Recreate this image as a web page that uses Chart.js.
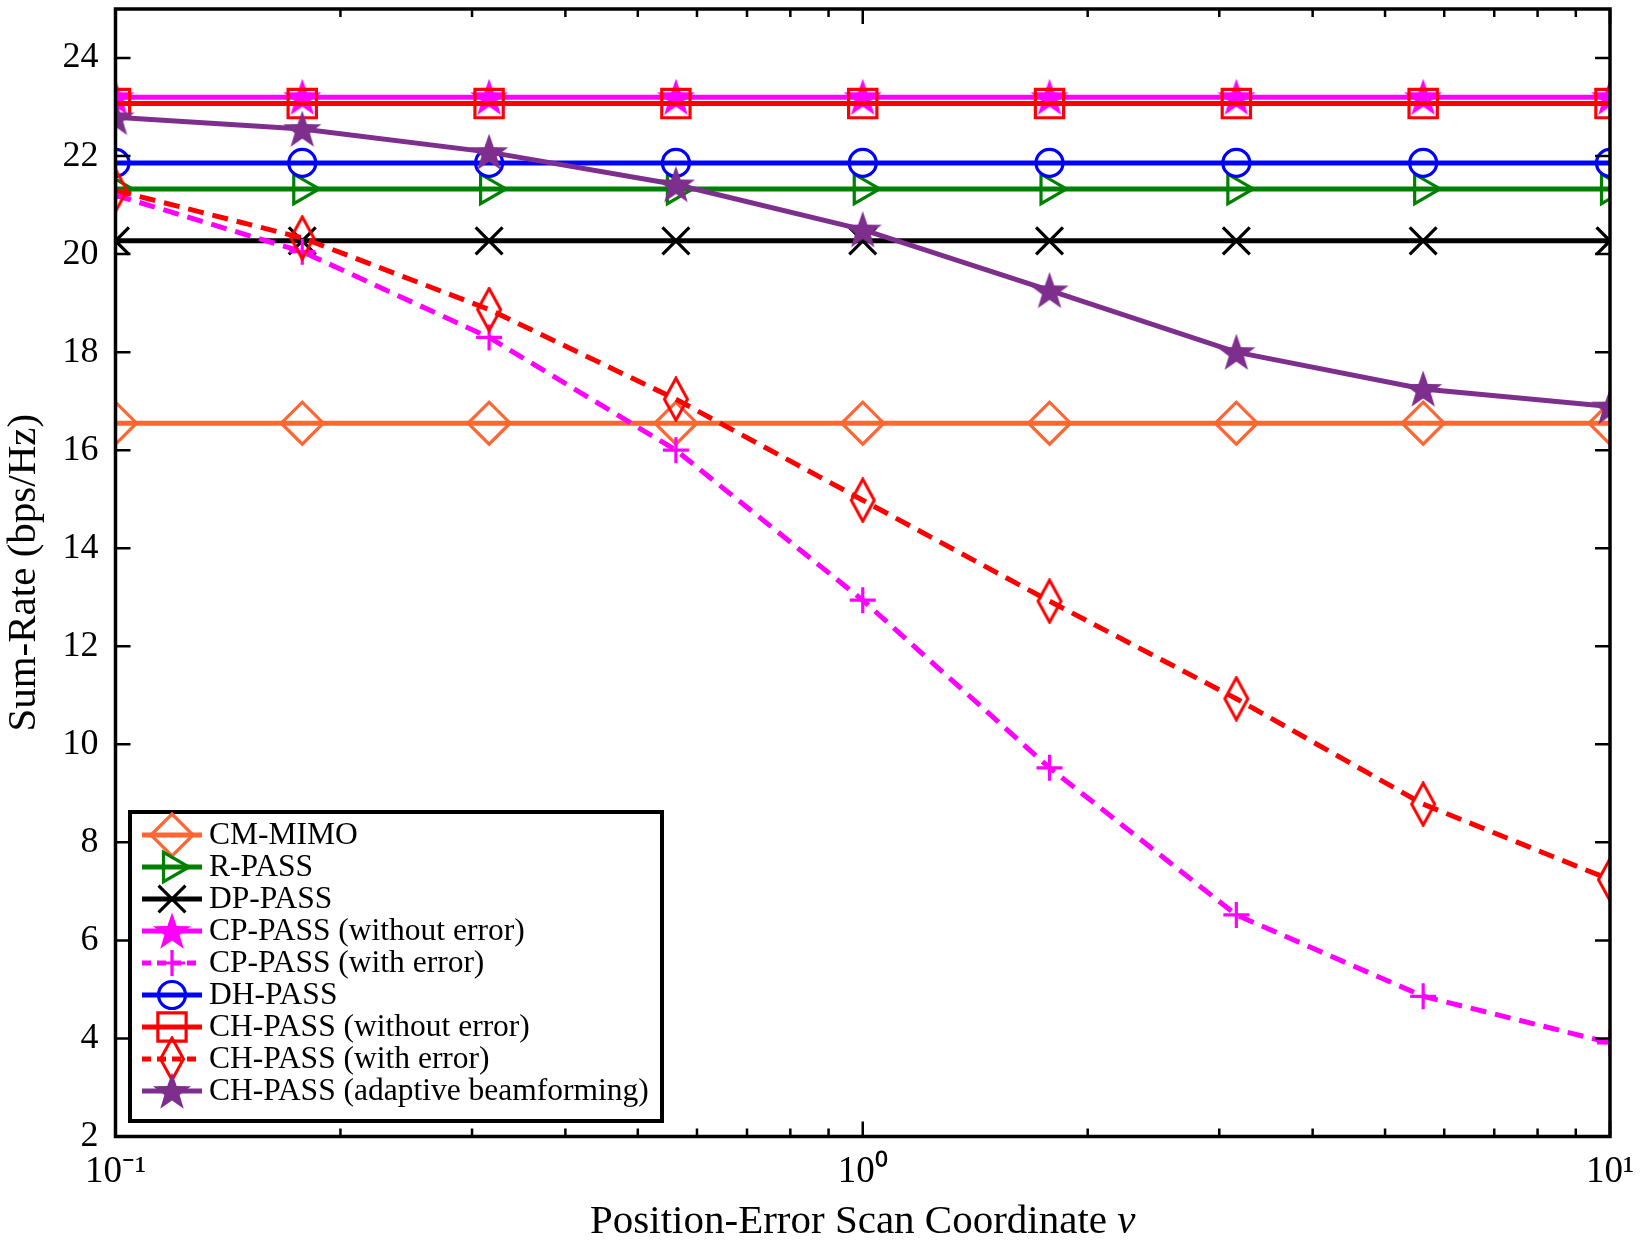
<!DOCTYPE html>
<html>
<head>
<meta charset="utf-8">
<script src="https://cdn.jsdelivr.net/npm/chart.js@4/dist/chart.umd.min.js"></script>
<style>
  html, body { margin: 0; padding: 0; background: #fff; }
  #wrap { width: 1642px; height: 1252px; position: relative; }
</style>
</head>
<body>
<div id="wrap"><canvas id="chart"></canvas></div>
<script>
// x positions (log scan of the position error)
const nuValues = [0.1, 0.1778, 0.3162, 0.5623, 1, 1.778, 3.162, 5.623, 10]

// sum-rate per scheme (bps/Hz)
const cmMimo = [16.55, 16.55, 16.55, 16.55, 16.55, 16.55, 16.55, 16.55, 16.55]
const rPass = [21.33, 21.33, 21.33, 21.33, 21.33, 21.33, 21.33, 21.33, 21.33]
const dpPass = [20.27, 20.27, 20.27, 20.27, 20.27, 20.27, 20.27, 20.27, 20.27]
const cpPassNoErr = [23.2, 23.2, 23.2, 23.2, 23.2, 23.2, 23.2, 23.2, 23.2]
const cpPassErr = [21.2, 20.05, 18.3, 16.0, 12.94, 9.52, 6.52, 4.86, 3.91]
const dhPass = [21.86, 21.86, 21.86, 21.86, 21.86, 21.86, 21.86, 21.86, 21.86]
const chPassNoErr = [23.07, 23.07, 23.07, 23.07, 23.07, 23.07, 23.07, 23.07, 23.07]
const chPassErr = [21.3, 20.33, 18.87, 17.04, 14.98, 12.92, 10.93, 8.78, 7.24]
const chPassAdaptive = [22.79, 22.55, 22.08, 21.42, 20.5, 19.26, 18.0, 17.25, 16.89]

const seriesNames = ['CM-MIMO', 'R-PASS', 'DP-PASS', 'CP-PASS (without error)', 'CP-PASS (with error)',
  'DH-PASS', 'CH-PASS (without error)', 'CH-PASS (with error)', 'CH-PASS (adaptive beamforming)']

// axis ticks
const xTickValues = [0.1, 0.2, 0.3, 0.4, 0.5, 0.6, 0.7, 0.8, 0.9, 1, 2, 3, 4, 5, 6, 7, 8, 9, 10]
const xTickLabels = {0.1: '10\u207B\u00B9', 1: '10\u2070', 10: '10\u00B9'}
const yTickValues = [2, 4, 6, 8, 10, 12, 14, 16, 18, 20, 22, 24]

const serif = '"Liberation Serif", "Times New Roman", serif'

// custom marker images
function starImg(color) {
    const c = document.createElement('canvas')
    c.width = 42; c.height = 42
    const g = c.getContext('2d')
    g.beginPath()
    for (let i = 0; i < 10; i++) {
        const r = i % 2 === 0 ? 20 : 8
        const a = -Math.PI / 2 + i * Math.PI / 5
        g.lineTo(21 + r * Math.cos(a), 22.5 + r * Math.sin(a))
    }
    g.closePath()
    g.fillStyle = color
    g.fill()
    return c
}

function thinDiamondImg(color) {
    const c = document.createElement('canvas')
    c.width = 28; c.height = 46
    const g = c.getContext('2d')
    g.beginPath()
    g.moveTo(14, 2); g.lineTo(25.5, 23); g.lineTo(14, 44); g.lineTo(2.5, 23)
    g.closePath()
    g.lineWidth = 3
    g.strokeStyle = color
    g.stroke()
    return c
}

const none = 'rgba(0,0,0,0)'
const styles = [
    {color: '#FF6633', point: 'rectRot', radius: 21, dash: []},
    {color: '#008000', point: 'triangle', radius: 17, rot: 90, dash: []},
    {color: '#000000', point: 'crossRot', radius: 19, dash: []},
    {color: '#FF00FF', point: starImg('#FF00FF'), radius: 18, dash: []},
    {color: '#FF00FF', point: 'cross', radius: 13, dash: [16, 9]},
    {color: '#0000FF', point: 'circle', radius: 13.5, dash: []},
    {color: '#FF0000', point: 'rect', radius: 20, dash: []},
    {color: '#FF0000', point: thinDiamondImg('#FF0000'), radius: 20, dash: [16, 9]},
    {color: '#7E2F8E', point: starImg('#7E2F8E'), radius: 18, dash: []},
]
const seriesData = [cmMimo, rPass, dpPass, cpPassNoErr, cpPassErr, dhPass, chPassNoErr, chPassErr, chPassAdaptive]

const datasets = seriesData.map((vals, i) => ({
    label: seriesNames[i],
    data: vals.map((v, k) => ({x: nuValues[k], y: v})),
    borderColor: styles[i].color,
    backgroundColor: none,
    borderWidth: 5,
    borderDash: styles[i].dash,
    pointStyle: styles[i].point,
    pointRadius: styles[i].radius,
    pointRotation: styles[i].rot || 0,
    pointBorderColor: styles[i].color,
    pointBackgroundColor: none,
    pointBorderWidth: 3.2,
    tension: 0,
    clip: 0,
    order: 9 - i,
}))

const drawPoint = Chart.helpers.drawPoint

// frame, inward ticks, x title and legend
const decorations = {
    id: 'decorations',
    afterDatasetsDraw(chart) {
        const ctx = chart.ctx
        const a = chart.chartArea
        const xs = chart.scales.x, ys = chart.scales.y
        ctx.save()
        ctx.strokeStyle = '#000'
        ctx.lineWidth = 2.5
        ctx.beginPath()
        xTickValues.forEach(v => {
            const px = xs.getPixelForValue(v)
            const len = xTickLabels[v] ? 15 : 8
            ctx.moveTo(px, a.bottom); ctx.lineTo(px, a.bottom - len)
            ctx.moveTo(px, a.top); ctx.lineTo(px, a.top + len)
        })
        yTickValues.forEach(v => {
            const py = ys.getPixelForValue(v)
            ctx.moveTo(a.left, py); ctx.lineTo(a.left + 15, py)
            ctx.moveTo(a.right, py); ctx.lineTo(a.right - 15, py)
        })
        ctx.stroke()
        ctx.lineWidth = 3.5
        ctx.strokeRect(a.left, a.top, a.right - a.left, a.bottom - a.top)

        // x axis title with italic nu
        const t1 = 'Position-Error Scan Coordinate '
        ctx.fillStyle = '#000'
        ctx.textBaseline = 'middle'
        ctx.font = '41px ' + serif
        const w1 = ctx.measureText(t1).width
        ctx.font = 'italic 41px ' + serif
        const w2 = ctx.measureText('\u03BD').width
        const tx = (a.left + a.right) / 2 - (w1 + w2) / 2
        ctx.font = '41px ' + serif
        ctx.textAlign = 'left'
        ctx.fillText(t1, tx, 1222)
        ctx.font = 'italic 41px ' + serif
        ctx.fillText('\u03BD', tx + w1, 1222)

        // legend box
        const lx = 130, ly = 812, lw = 532, lh = 309
        ctx.fillStyle = '#fff'
        ctx.fillRect(lx, ly, lw, lh)
        ctx.lineWidth = 4
        ctx.strokeRect(lx, ly, lw, lh)
        ctx.font = '31.5px ' + serif
        chart.data.datasets.forEach((ds, i) => {
            const y = 835 + i * 32
            ctx.save()
            ctx.strokeStyle = ds.borderColor
            ctx.lineWidth = ds.borderWidth
            ctx.setLineDash(ds.borderDash.length ? [9, 6] : [])
            ctx.beginPath()
            ctx.moveTo(142, y); ctx.lineTo(202, y)
            ctx.stroke()
            ctx.setLineDash([])
            ctx.fillStyle = none
            ctx.lineWidth = ds.pointBorderWidth
            drawPoint(ctx, {pointStyle: ds.pointStyle, radius: ds.pointRadius,
                rotation: ds.pointRotation, borderWidth: ds.pointBorderWidth}, 172, y)
            ctx.restore()
            ctx.fillStyle = '#000'
            ctx.fillText(ds.label, 209, y + 1)
        })
        ctx.restore()
    }
}

const config = {
    type: 'line',
    data: {datasets},
    options: {
        responsive: true,
        maintainAspectRatio: false,
        animation: false,
        layout: {autoPadding: false, padding: {left: 0, right: 32, top: 9, bottom: 0}},
        plugins: {legend: {display: false}, tooltip: {enabled: false}},
        scales: {
            x: {
                type: 'logarithmic',
                min: 0.1,
                max: 10,
                grid: {display: false, drawTicks: false},
                border: {display: false},
                afterBuildTicks: s => { s.ticks = xTickValues.map(v => ({value: v, major: !!xTickLabels[v]})) },
                afterFit: s => { s.height = 115.5; s.paddingLeft = 0; s.paddingRight = 0 },
                ticks: {
                    autoSkip: false,
                    maxRotation: 0,
                    padding: 14,
                    color: '#000',
                    font: {family: serif, size: 37},
                    callback: v => xTickLabels[v] || ''
                }
            },
            y: {
                min: 2,
                max: 25,
                grid: {display: false, drawTicks: false},
                border: {display: false},
                afterBuildTicks: s => { s.ticks = yTickValues.map(v => ({value: v})) },
                afterFit: s => { s.width = 115.5; s.paddingTop = 0; s.paddingBottom = 0 },
                ticks: {
                    padding: 17,
                    color: '#000',
                    font: {family: serif, size: 36}
                },
                title: {
                    display: true,
                    text: 'Sum-Rate (bps/Hz)',
                    color: '#000',
                    font: {family: serif, size: 41},
                    padding: {top: 0, bottom: 0}
                }
            }
        }
    },
    plugins: [decorations]
}

const myChart = new Chart(document.getElementById('chart'), config)
</script>
</body>
</html>
